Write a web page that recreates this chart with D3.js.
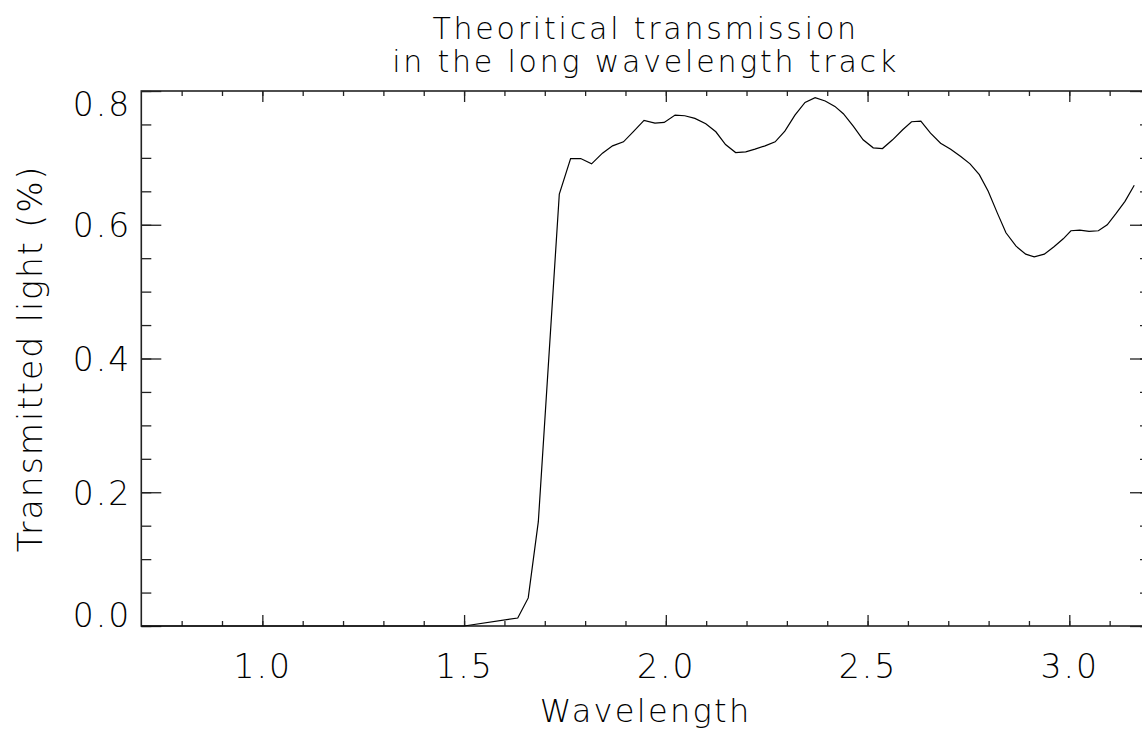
<!DOCTYPE html>
<html>
<head>
<meta charset="utf-8">
<script src="https://cdn.jsdelivr.net/npm/d3@7"></script>
<style>
  body { margin: 0; background: #fff; }
  svg text { font-family: "DejaVu Sans", "Liberation Sans", sans-serif; font-weight: 200; fill: #000; }
</style>
</head>
<body>
<svg width="1142" height="731"></svg>
<script>
// wavelength (micron) and transmitted fraction
const wavelength = [0.70, 1.50, 1.633, 1.659, 1.684, 1.736, 1.764, 1.789, 1.816, 1.843,
  1.868, 1.895, 1.919, 1.946, 1.973, 1.996, 2.023, 2.047, 2.072, 2.099,
  2.124, 2.148, 2.173, 2.198, 2.221, 2.246, 2.271, 2.295, 2.320, 2.345,
  2.370, 2.395, 2.419, 2.440, 2.465, 2.489, 2.514, 2.537, 2.562, 2.587,
  2.609, 2.632, 2.656, 2.681, 2.706, 2.731, 2.754, 2.777, 2.799, 2.822,
  2.843, 2.868, 2.892, 2.913, 2.938, 2.962, 2.985, 3.004, 3.026, 3.049,
  3.072, 3.094, 3.116, 3.138, 3.161];
const transmission = [0, 0, 0.012, 0.042, 0.156, 0.646, 0.699, 0.699, 0.691, 0.707,
  0.718, 0.724, 0.739, 0.756, 0.752, 0.753, 0.764, 0.763, 0.759, 0.751,
  0.739, 0.720, 0.708, 0.709, 0.713, 0.718, 0.724, 0.740, 0.764, 0.783,
  0.790, 0.785, 0.777, 0.766, 0.747, 0.727, 0.715, 0.714, 0.727, 0.742,
  0.754, 0.755, 0.737, 0.722, 0.713, 0.702, 0.691, 0.675, 0.650, 0.617,
  0.588, 0.568, 0.556, 0.552, 0.556, 0.567, 0.579, 0.591, 0.592, 0.590,
  0.591, 0.600, 0.617, 0.635, 0.659];

const xMajor = [1.0, 1.5, 2.0, 2.5, 3.0];
const yMajor = [0.0, 0.2, 0.4, 0.6, 0.8];
const titleLines = ["Theoritical transmission", "in the long wavelength track"];

const svg = d3.select("svg");
const m = { left: 141.3, right: 1150, top: 91, bottom: 626 };

const x = d3.scaleLinear().domain([0.7, 3.2]).range([m.left, m.right]);
const y = d3.scaleLinear().domain([0, 0.8]).range([m.bottom, m.top]);

const xMinor = d3.range(8, 33).map(d => d / 10);
const yMinor = d3.range(0, 17).map(d => d / 20);

const axisColor = "#222";

function styleAxis(g) {
  g.select(".domain").remove();
  g.selectAll(".tick line").attr("stroke", axisColor).attr("stroke-width", 1.3);
}

// minor ticks, all four sides
svg.append("g").attr("transform", `translate(0,${m.bottom})`)
  .call(d3.axisBottom(x).tickValues(xMinor).tickSize(-5).tickFormat(""))
  .call(styleAxis);
svg.append("g").attr("transform", `translate(0,${m.top})`)
  .call(d3.axisTop(x).tickValues(xMinor).tickSize(-5).tickFormat(""))
  .call(styleAxis);
svg.append("g").attr("transform", `translate(${m.left},0)`)
  .call(d3.axisLeft(y).tickValues(yMinor).tickSize(-10).tickFormat(""))
  .call(styleAxis);
svg.append("g").attr("transform", `translate(${m.right},0)`)
  .call(d3.axisRight(y).tickValues(yMinor).tickSize(-10).tickFormat(""))
  .call(styleAxis);

// major ticks with labels
const xb = svg.append("g").attr("transform", `translate(0,${m.bottom})`)
  .call(d3.axisBottom(x).tickValues(xMajor).tickSize(-11).tickFormat(d3.format(".1f")))
  .call(styleAxis);
xb.selectAll("text").attr("y", 52).attr("dy", null)
  .attr("font-size", 33).attr("letter-spacing", 2);

svg.append("g").attr("transform", `translate(0,${m.top})`)
  .call(d3.axisTop(x).tickValues(xMajor).tickSize(-11).tickFormat(""))
  .call(styleAxis);

const yl = svg.append("g").attr("transform", `translate(${m.left},0)`)
  .call(d3.axisLeft(y).tickValues(yMajor).tickSize(-20).tickFormat(d3.format(".1f")))
  .call(styleAxis);
yl.selectAll("text").attr("x", -10).attr("dy", "0.36em")
  .attr("font-size", 33).attr("letter-spacing", 2)
  .attr("transform", d => d === 0 ? "translate(0,-11)" : d === 0.8 ? "translate(0,13)" : null);

svg.append("g").attr("transform", `translate(${m.right},0)`)
  .call(d3.axisRight(y).tickValues(yMajor).tickSize(-20).tickFormat(""))
  .call(styleAxis);

// frame
svg.append("rect")
  .attr("x", m.left).attr("y", m.top)
  .attr("width", m.right - m.left).attr("height", m.bottom - m.top)
  .attr("fill", "none").attr("stroke", axisColor).attr("stroke-width", 1.6);

// curve
const pts = wavelength.map((w, i) => [w, transmission[i]]);
svg.append("path")
  .datum(pts)
  .attr("fill", "none")
  .attr("stroke", "#000")
  .attr("stroke-width", 1.2)
  .attr("d", d3.line().x(d => x(d[0])).y(d => y(d[1])));

// titles
const cx = (m.left + m.right) / 2;
svg.selectAll(".title").data(titleLines).enter().append("text")
  .attr("class", "title")
  .attr("x", cx).attr("y", (d, i) => 39 + i * 32.5)
  .attr("text-anchor", "middle").attr("font-size", 30).attr("letter-spacing", 2.8)
  .text(d => d);

svg.append("text")
  .attr("x", cx).attr("y", 722)
  .attr("text-anchor", "middle").attr("font-size", 32).attr("letter-spacing", 2.3)
  .text("Wavelength");

svg.append("text")
  .attr("transform", `translate(42,${(m.top + m.bottom) / 2}) rotate(-90)`)
  .attr("text-anchor", "middle").attr("font-size", 33).attr("letter-spacing", 2)
  .text("Transmitted light (%)");
</script>
</body>
</html>
